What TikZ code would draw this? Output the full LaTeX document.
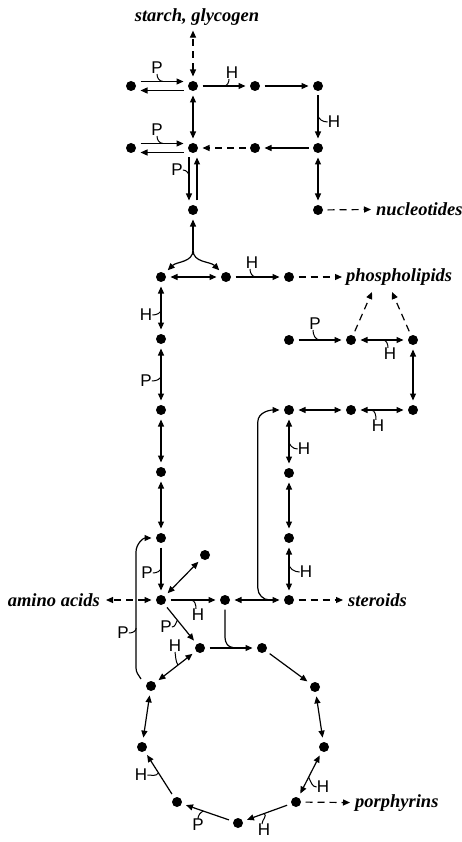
\documentclass[tikz,border=0pt]{standalone}
\usepackage{fontspec}
\setmainfont{Liberation Serif}
\newfontfamily\lsans{Liberation Sans}
\usetikzlibrary{arrows.meta,calc}
\tikzset{
  dot/.style={circle,fill,inner sep=0pt,minimum size=10pt,outer sep=4.5pt},
  ln/.style={line width=1.2pt},
  ar/.style={ln,->},
  dar/.style={ln,<->},
  dsh/.style={dash pattern=on 7pt off 5pt},
  hk/.style={line width=1pt},
  lbl/.style={font=\lsans\fontsize{17}{17}\selectfont,inner sep=0pt},
  txt/.style={font=\fontsize{18.5}{18.5}\selectfont\bfseries\itshape,inner sep=1pt},
}
\begin{document}
\begin{tikzpicture}[x=1pt,y=1pt,>={Triangle[length=7pt,width=6pt]}]
\useasboundingbox (0,0) rectangle (462,-842);

% metabolite dots
\node[dot] (r1a) at (131,-86) {};
\node[dot] (r1b) at (193,-86) {};
\node[dot] (r1c) at (255,-86) {};
\node[dot] (r1d) at (318,-86) {};
\node[dot] (r2a) at (131,-148) {};
\node[dot] (r2b) at (193,-148) {};
\node[dot] (r2c) at (255,-148) {};
\node[dot] (r2d) at (318,-148) {};
\node[dot] (c3) at (193,-210) {};
\node[dot] (n1) at (318,-210) {};
\node[dot] (f1) at (161,-277) {};
\node[dot] (f2) at (226,-277) {};
\node[dot] (f3) at (289,-277) {};
\node[dot] (g1) at (161,-339) {};
\node[dot] (g2) at (161,-410) {};
\node[dot] (g3) at (161,-472) {};
\node[dot] (g4) at (161,-538) {};
\node[dot] (aa) at (161,-600) {};
\node[dot] (p1) at (289,-340) {};
\node[dot] (p2) at (351,-340) {};
\node[dot] (p3) at (413,-340) {};
\node[dot] (s1) at (289,-410) {};
\node[dot] (s2) at (351,-410) {};
\node[dot] (s3) at (413,-410) {};
\node[dot] (s4) at (289,-473) {};
\node[dot] (s5) at (289,-538) {};
\node[dot] (st) at (289,-600) {};
\node[dot] (m1) at (205,-555) {};
\node[dot] (m2) at (225,-600) {};
\node[dot] (k1) at (200,-648) {};
\node[dot] (k2) at (262,-648) {};
\node[dot] (o1) at (151,-686) {};
\node[dot] (o2) at (315,-687) {};
\node[dot] (o3) at (142,-747) {};
\node[dot] (o4) at (324,-747) {};
\node[dot] (o5) at (177,-802) {};
\node[dot] (o6) at (296,-802) {};
\node[dot] (o7) at (238,-823) {};

% end products
\node[txt] (sg) at (197,-17) {starch, glycogen};
\node[txt,anchor=west] (nu) at (375,-209) {nucleotides};
\node[txt,anchor=west] (ph) at (345,-277) {phospholipids};
\node[txt,anchor=east] (am) at (101,-600) {amino acids};
\node[txt,anchor=west] (sd) at (347,-600) {steroids};
\node[txt,anchor=west] (po) at (354,-803) {porphyrins};
\coordinate (phL) at (372,-292);
\coordinate (phR) at (392,-292);

% top block
\draw[ln,dsh,<->,shorten >=4pt] (r1b) -- (r1b |- sg.south);
\draw[ar] ([yshift=4.5pt]r1a.east) -- ([yshift=4.5pt]r1b.west);
\draw[ar] ([yshift=-4.5pt]r1b.west) -- ([yshift=-4.5pt]r1a.east);
\node[lbl] (P1) at (157,-68) {P};
\draw[hk] (P1.south) to[out=-90,in=180] ++(6,-7.4);
\draw[ar] (r1b) -- (r1c);
\node[lbl] (H1) at (232,-73) {H};
\draw[hk] ([xshift=-3pt]H1.south) to[out=-90,in=0] ++(-5,-6.9);
\draw[ar] (r1c) -- (r1d);
\draw[ar] (r1d) -- (r2d);
\node[lbl] (H2) at (334,-122) {H};
\draw[hk] (H2.west) to[out=180,in=-90] ++(-9.9,8);
\draw[ar] (r2d) -- (r2c);
\draw[ar,dsh] (r2c) -- (r2b);
\draw[dar] (r1b) -- (r2b);
\draw[ar] ([yshift=4.5pt]r2a.east) -- ([yshift=4.5pt]r2b.west);
\draw[ar] ([yshift=-4.5pt]r2b.west) -- ([yshift=-4.5pt]r2a.east);
\node[lbl] (P2) at (157,-130) {P};
\draw[hk] (P2.south) to[out=-90,in=180] ++(6,-7.4);
\draw[ar] ([xshift=-4pt]r2b.south) -- ([xshift=-4pt]c3.north);
\draw[ar] ([xshift=4pt]c3.north) -- ([xshift=4pt]r2b.south);
\node[lbl] (P3) at (177,-170) {P};
\draw[hk] (P3.east) to[out=0,in=90] ++(6.3,-7);
\draw[dar] (r2d) -- (n1);
\draw[ar,dsh,shorten >=4pt] (n1) -- (nu);

% split into the middle row
\coordinate (sp) at (193,-250);
\draw[ar] (sp) -- (c3);
\draw[ar] (sp) to[out=-90,in=45] (f1);
\draw[ar] (sp) to[out=-90,in=135] (f2);
\draw[dar] (f1) -- (f2);
\draw[ar] (f2) -- (f3);
\node[lbl] (H3) at (252,-263) {H};
\draw[hk] ([xshift=-2pt]H3.south) to[out=-90,in=180] ++(6,-7.9);
\draw[ar,dsh,shorten >=3pt] (f3) -- (ph);

% left column
\draw[dar] (f1) -- (g1);
\node[lbl] (H4) at (146,-315) {H};
\draw[hk] (H4.east) to[out=0,in=-90] ++(8.9,6);
\draw[dar] (g1) -- (g2);
\node[lbl] (P4) at (146,-381) {P};
\draw[hk] (P4.east) to[out=0,in=-90] ++(9.3,6);
\draw[dar] (g2) -- (g3);
\draw[dar] (g3) -- (g4);
\draw[ar] (g4) -- (aa);
\node[lbl] (P5) at (147,-573) {P};
\draw[hk] (P5.east) to[out=0,in=-90] ++(8.3,6);

% right block
\draw[ar] (p1) -- (p2);
\node[lbl] (P6) at (315,-324) {P};
\draw[hk] ([xshift=-2pt]P6.south) to[out=-90,in=180] ++(7,-9.9);
\draw[dar] (p2) -- (p3);
\node[lbl] (H7) at (390,-354) {H};
\draw[hk] ([xshift=-2pt]H7.north) to[out=90,in=0] ++(-5,7.9);
\draw[ar,dsh] (p2) -- (phL);
\draw[ar,dsh] (p3) -- (phR);
\draw[dar] (p3) -- (s3);
\draw[dar] (s1) -- (s2);
\draw[dar] (s2) -- (s3);
\node[lbl] (H8) at (378,-426) {H};
\draw[hk] ([xshift=-2pt]H8.north) to[out=90,in=0] ++(-5,9.9);
\draw[dar] (s1) -- (s4);
\node[lbl] (H9) at (304,-449) {H};
\draw[hk] (H9.west) to[out=180,in=-90] ++(-8.9,9);
\draw[dar] (s4) -- (s5);
\draw[dar] (s5) -- (st);
\node[lbl] (H10) at (306,-572) {H};
\draw[hk] (H10.west) to[out=180,in=-90] ++(-10.9,9);

% lower row
\draw[dar,dsh,shorten >=5pt] (aa) -- (am);
\draw[dar] (aa) -- (m1);
\draw[ar] (aa) -- (m2);
\node[lbl] (H11) at (198,-615) {H};
\draw[hk] ([xshift=-2pt]H11.north) to[out=90,in=0] ++(-5,8.9);
\draw[dar] (m2) -- (st);
\draw[ar,dsh,shorten >=4pt] (st) -- (sd);
\draw[ar] ($(m2)!.7!(st)$) to[out=180,in=-90] ++(-12,12) -- ++(0,166) to[out=90,in=180] (s1);
\draw[ar] (aa) -- (k1);
\node[lbl] (P12) at (166,-627) {P};
\draw[hk] (P12.east) to[out=0,in=-120] ($(aa)!.42!(k1)$);
\draw[ln] (m2.south) -- ++(0,-28) to[out=-90,in=180] ++(8,-10);
\draw[ar] (k1) -- (k2);
\draw[dar] (k1) -- (o1);
\node[lbl] (H13) at (175,-646) {H};
\draw[hk] (H13.south) to[out=-80,in=120] ($(k1)!.45!(o1)$);
\draw[ar] ($(o1)+(-10,7)$) to[out=120,in=-90] (136,-668) -- (136,-552) to[out=90,in=180] (g4);
\node[lbl] (P14) at (123,-633) {P};
\draw[hk] (P14.east) to[out=0,in=-90] ++(7.3,5);

% ring
\draw[ar] (k2) -- (o2);
\draw[dar] (o2) -- (o4);
\draw[dar] (o4) -- (o6);
\node[lbl] (H15) at (323,-787) {H};
\draw[hk] (H15.west) to[out=180,in=-60] ($(o4)!.55!(o6)$);
\draw[ar,dsh,shorten >=4pt] (o6) -- (po);
\draw[ar] (o6) -- (o7);
\node[lbl] (H16) at (264,-830) {H};
\draw[hk] ([xshift=-2pt]H16.north) to[out=90,in=-30] ($(o6)!.55!(o7)$);
\draw[ar] (o7) -- (o5);
\node[lbl] (P17) at (198,-825) {P};
\draw[hk] (P17.north) to[out=90,in=-150] ($(o7)!.57!(o5)$);
\draw[ar] (o5) -- (o3);
\node[lbl] (H18) at (141,-775) {H};
\draw[hk] (H18.east) to[out=0,in=-120] ($(o5)!.53!(o3)$);
\draw[dar] (o3) -- (o1);
\end{tikzpicture}
\end{document}
